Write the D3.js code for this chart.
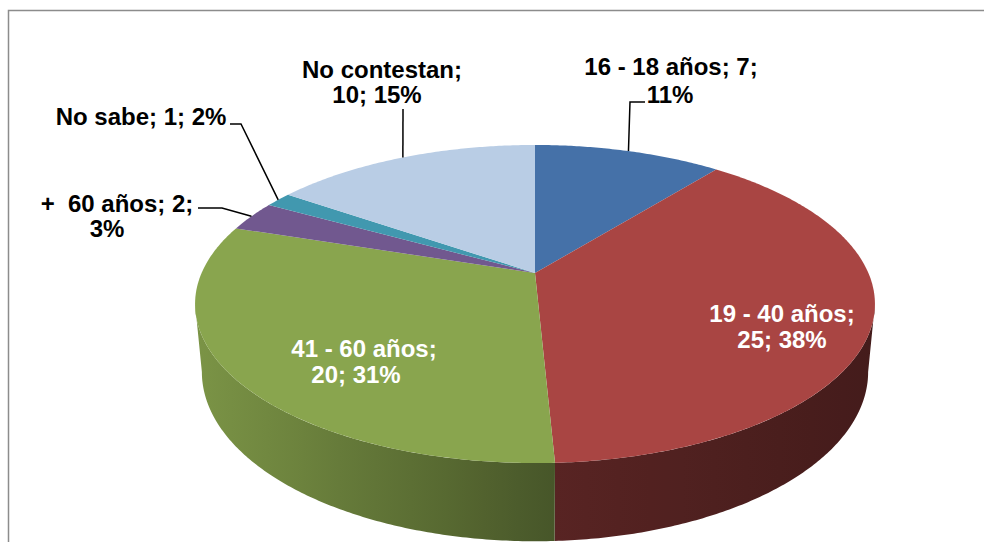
<!DOCTYPE html>
<html>
<head>
<meta charset="utf-8">
<script src="https://cdn.jsdelivr.net/npm/d3@7"></script>
<style>
  body { margin: 0; background: #fff; }
  text { font-family: "Liberation Sans", Arial, sans-serif; font-weight: bold; }
</style>
</head>
<body>
<script>
const width = 984;
const height = 542;

// data
const categories = ["16 - 18 años", "19 - 40 años", "41 - 60 años", "+  60 años", "No sabe", "No contestan"];
const values = [7, 25, 20, 2, 1, 10];
const colors = ["#4571a8", "#a94543", "#89a54e", "#71588f", "#4198af", "#b9cde5"];

// label placement (line text split after n-th "; ", per-line x, baselines, elbow of leader)
const labelLayout = [
  {split: 2, xs: [671, 670], ys: [75, 103], fill: "#000", elbow: [[645, 102], [630, 102]]},
  {split: 1, xs: [782, 782], ys: [322, 348], fill: "#fff"},
  {split: 1, xs: [364, 356], ys: [357, 383], fill: "#fff"},
  {split: 2, xs: [117, 107], ys: [212, 237], fill: "#000", elbow: [[198, 208], [222, 208]]},
  {split: 0, xs: [141], ys: [125], fill: "#000", elbow: [[230, 124], [241, 124]]},
  {split: 1, xs: [382, 377], ys: [78, 103], fill: "#000", elbow: [[403, 109]]}
];

// perspective of the pie plane
const cx = 535, cy = 273;
const a = 333.4, b = 153, k = -0.195;
const thick = 66, shrink = 0.98;

function proj(phi, bottom) {
  const X = Math.sin(phi), Y = -Math.cos(phi);
  const d = 1 + k * Y;
  if (!bottom) return [cx + a * X / d, cy + b * Y / d];
  return [cx + shrink * a * X / d, cy + (shrink * b * Y + thick) / d];
}

function arcPoints(a0, a1, bottom) {
  const n = Math.max(2, Math.ceil(Math.abs(a1 - a0) / 0.01));
  return d3.range(n + 1).map(i => proj(a0 + (a1 - a0) * i / n, bottom));
}

const svg = d3.select("body").append("svg")
  .attr("width", width)
  .attr("height", height);

const defs = svg.append("defs");

// chart frame
svg.append("rect")
  .attr("x", 8.5).attr("y", 10.5)
  .attr("width", width + 20).attr("height", height + 20)
  .attr("fill", "#fff")
  .attr("stroke", "#8c8c8c")
  .attr("stroke-width", 1.5);

const total = d3.sum(values);
const data = categories.map((c, i) => ({name: c, value: values[i], color: colors[i], i: i}));
const arcs = d3.pie().sort(null).value(d => d.value)(data);

const line = d3.line();

// side walls, only the front part is visible
const visFrom = Math.acos(k) , visTo = 2 * Math.PI - Math.acos(k);
const shade = d3.scaleLinear().domain([195, 555, 875]).range([0.1, 0.48, 0.6]);

const walls = svg.append("g");
arcs.forEach((s, i) => {
  const a0 = Math.max(s.startAngle, visFrom), a1 = Math.min(s.endAngle, visTo);
  if (a1 <= a0) return;
  const top = arcPoints(a0, a1, false);
  const bot = arcPoints(a0, a1, true).reverse();
  const x0 = d3.min(top.concat(bot), p => p[0]), x1 = d3.max(top.concat(bot), p => p[0]);
  const g = defs.append("linearGradient")
    .attr("id", "wall" + i)
    .attr("gradientUnits", "userSpaceOnUse")
    .attr("x1", x0).attr("x2", x1).attr("y1", 0).attr("y2", 0);
  d3.range(11).forEach(j => {
    const x = x0 + (x1 - x0) * j / 10;
    g.append("stop")
      .attr("offset", j / 10)
      .attr("stop-color", d3.interpolateRgb(s.data.color, "#000")(shade(x)));
  });
  walls.append("path")
    .attr("d", line(top.concat(bot)) + "Z")
    .attr("fill", "url(#wall" + i + ")");
});

// top faces
svg.append("g").selectAll("path")
  .data(arcs)
  .enter().append("path")
  .attr("d", s => line([[cx, cy]].concat(arcPoints(s.startAngle, s.endAngle, false))) + "Z")
  .attr("fill", s => s.data.color);

// leader lines
svg.append("g").selectAll("path")
  .data(arcs.filter((s, i) => labelLayout[i].elbow))
  .enter().append("path")
  .attr("d", s => line(labelLayout[s.data.i].elbow.concat([proj((s.startAngle + s.endAngle) / 2, false)])))
  .attr("fill", "none")
  .attr("stroke", "#000")
  .attr("stroke-width", 1.5);

// data labels
function labelLines(s) {
  const pct = Math.round(s.value / total * 100);
  const parts = [s.data.name + ";", s.value + ";", pct + "%"];
  const n = labelLayout[s.data.i].split;
  if (n === 0) return [parts.join(" ")];
  return [parts.slice(0, n).join(" "), parts.slice(n).join(" ")];
}

const labels = svg.append("g").selectAll("text")
  .data(arcs)
  .enter().append("text")
  .attr("text-anchor", "middle")
  .style("font-size", "24px")
  .attr("fill", s => labelLayout[s.data.i].fill);

labels.each(function(s) {
  const L = labelLayout[s.data.i];
  d3.select(this).selectAll("tspan")
    .data(labelLines(s))
    .enter().append("tspan")
    .attr("x", (t, j) => L.xs[j])
    .attr("y", (t, j) => L.ys[j])
    .style("white-space", "pre")
    .text(t => t);
});
</script>
</body>
</html>
